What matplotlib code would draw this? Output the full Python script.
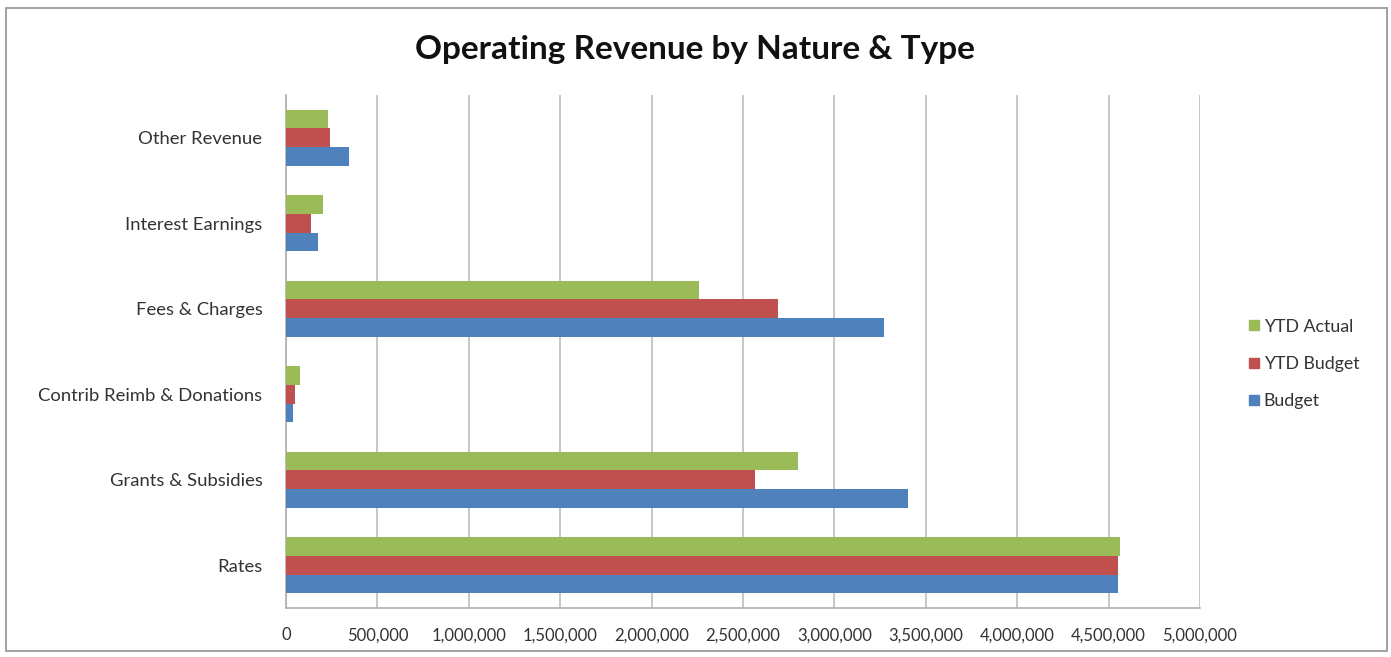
import numpy as np
import matplotlib.pyplot as plt
import matplotlib
from matplotlib.ticker import FuncFormatter
from matplotlib.patches import Rectangle
from matplotlib.lines import Line2D

matplotlib.rc("font", family=["Lato", "DejaVu Sans"])

# revenue categories, bottom to top
categories = ["Rates", "Grants & Subsidies", "Contrib Reimb & Donations",
              "Fees & Charges", "Interest Earnings", "Other Revenue"]
budget = [4552000, 3404000, 41000, 3273000, 175000, 344000]
ytd_budget = [4549000, 2563000, 49000, 2689000, 135000, 240000]
ytd_actual = [4560000, 2803000, 77000, 2262000, 202000, 230000]
xticks = [0, 500000, 1000000, 1500000, 2000000, 2500000,
          3000000, 3500000, 4000000, 4500000, 5000000]


def display():
    fig = plt.figure(figsize=(13.91, 6.57), dpi=100)
    ax = fig.add_axes([286 / 1391, 1 - 608 / 657, 914 / 1391, 513 / 657])

    y = np.arange(len(categories))
    h = 0.218
    ax.barh(y - h, budget, h, color="#4F81BD", label="Budget", zorder=3)
    ax.barh(y, ytd_budget, h, color="#C0504D", label="YTD Budget", zorder=3)
    ax.barh(y + h, ytd_actual, h, color="#9BBB59", label="YTD Actual", zorder=3)

    ax.set_xlim(0, 5000000)
    ax.set_ylim(-0.5, len(categories) - 0.5)
    ax.set_xticks(xticks)
    ax.xaxis.set_major_formatter(FuncFormatter(lambda v, p: f"{int(v):,}"))
    ax.set_yticks(y)
    ax.set_yticklabels(categories)
    ax.tick_params(axis="both", length=0, colors="#333333")
    ax.tick_params(axis="x", pad=14, labelsize=12)
    ax.tick_params(axis="y", pad=17, labelsize=13.3)
    ax.grid(axis="x", color="#b8b8b8", linewidth=1.1, zorder=0)

    for side in ["top", "right"]:
        ax.spines[side].set_visible(False)
    for side in ["left", "bottom"]:
        ax.spines[side].set_color("#aaaaaa")
        ax.spines[side].set_linewidth(1.1)

    fig.text(695 / 1391, 1 - 49 / 657, "Operating Revenue by Nature & Type",
             ha="center", va="center", fontsize=24, fontweight="bold",
             color="#111111")

    handles = [Line2D([], [], marker="s", linestyle="none", markersize=7.5,
                      color=c) for c in ["#9BBB59", "#C0504D", "#4F81BD"]]
    fig.legend(handles, ["YTD Actual", "YTD Budget", "Budget"],
               loc="center left", bbox_to_anchor=(1229 / 1391, 1 - 364 / 657),
               frameon=False, fontsize=12.8, handletextpad=0.05,
               labelspacing=1.2, handlelength=1.0, labelcolor="#333333")

    # outer chart frame
    fig.patches.append(Rectangle((6 / 1391, 1 - 651 / 657), 1381 / 1391,
                                 643 / 657, transform=fig.transFigure,
                                 fill=False, edgecolor="#9a9a9a",
                                 linewidth=1.3))

    fig.savefig("out.png", dpi=100)


if __name__ == '__main__':
    display()
